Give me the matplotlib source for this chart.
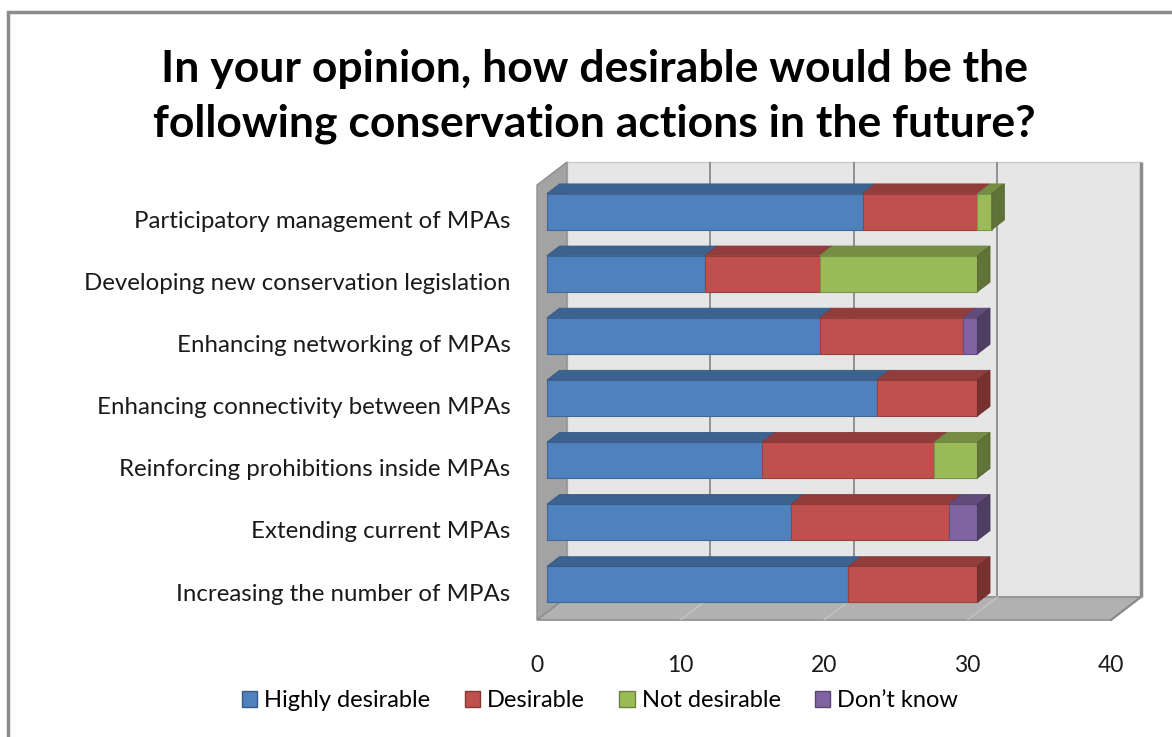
import matplotlib
matplotlib.use("Agg")
import matplotlib.pyplot as plt
from matplotlib.patches import Polygon, Patch, Rectangle
from matplotlib.colors import to_rgb

plt.rcParams['font.family'] = ['Lato', 'DejaVu Sans']

# survey answers, top row first
actions = [
    "Participatory management of MPAs",
    "Developing new conservation legislation",
    "Enhancing networking of MPAs",
    "Enhancing connectivity between MPAs",
    "Reinforcing prohibitions inside MPAs",
    "Extending current MPAs",
    "Increasing the number of MPAs",
]
highly_desirable = [22, 11, 19, 23, 15, 17, 21]
desirable = [8, 8, 10, 7, 12, 11, 9]
not_desirable = [1, 11, 0, 0, 3, 0, 0]
dont_know = [0, 0, 1, 0, 0, 2, 0]

series_names = ["Highly desirable", "Desirable", "Not desirable", "Don\u2019t know"]
series_colors = ["#4F81BD", "#C0504D", "#9BBB59", "#8064A2"]
x_ticks = [0, 10, 20, 30, 40]


def shade(c, f):
    r, g, b = to_rgb(c)
    return (r * f, g * f, b * f)


# fake 3d: depth offset of the back wall, in data units
DX = 2.09
DY = 0.371
D_FRONT = 0.33   # depth of the bar front face
D_BACK = 0.75    # depth of the bar back face
BAR_H = 0.58
Y_SHIFT = -0.05
XMAX = x_ticks[-1]
n = len(actions)

fig = plt.figure(figsize=(11.72, 7.37), dpi=100)
ax = fig.add_axes([537 / 1172, 1 - 620 / 737, 604 / 1172, 458 / 737])
ax.set_xlim(0, XMAX + DX)
ax.set_ylim(-0.5, n - 0.5 + DY)

y_lo, y_hi = -0.5, n - 0.5

# walls and floor
back = Polygon([(DX, y_lo + DY), (XMAX + DX, y_lo + DY), (XMAX + DX, y_hi + DY), (DX, y_hi + DY)],
               closed=True, facecolor="#E6E6E6", edgecolor="#C8C8C8", lw=1, zorder=0)
left = Polygon([(0, y_lo), (DX, y_lo + DY), (DX, y_hi + DY), (0, y_hi)],
               closed=True, facecolor="#A3A3A3", edgecolor="#8F8F8F", lw=1, zorder=1)
floor = Polygon([(0, y_lo), (XMAX, y_lo), (XMAX + DX, y_lo + DY), (DX, y_lo + DY)],
                closed=True, facecolor="#B1B1B1", edgecolor="#8F8F8F", lw=1.2, zorder=1)
for p in (back, left, floor):
    p.set_clip_on(False)
    ax.add_patch(p)

for v in x_ticks[1:-1]:
    ax.plot([v + DX, v + DX], [y_lo + DY, y_hi + DY], color="#8A8A8A", lw=1.3, zorder=0.5)
    ax.plot([v, v + DX], [y_lo, y_lo + DY], color="#C4C4C4", lw=1.0, zorder=1.5)
ax.plot([XMAX + DX, XMAX + DX], [y_lo + DY, y_hi + DY], color="#8C8C8C", lw=2.5,
        zorder=1.5, clip_on=False, solid_capstyle="butt")
ax.plot([XMAX, XMAX + DX], [y_lo, y_lo + DY], color="#8C8C8C", lw=1.5, zorder=1.5, clip_on=False)

# stacked 3d bars
all_series = [highly_desirable, desirable, not_desirable, dont_know]
positions = [n - 1 - i + Y_SHIFT for i in range(n)]
fx, fy = D_FRONT * DX, D_FRONT * DY
dd = D_BACK - D_FRONT
for i, ypos in enumerate(positions):
    left_edge = 0
    last_color = None
    yb = ypos + fy - BAR_H / 2
    yt = ypos + fy + BAR_H / 2
    for vals, col in zip(all_series, series_colors):
        v = vals[i]
        if v <= 0:
            continue
        x0 = left_edge + fx
        x1 = x0 + v
        ax.barh(ypos + fy, v, left=x0, height=BAR_H, color=col,
                edgecolor=shade(col, 0.8), lw=0.8, zorder=3)
        top = Polygon([(x0, yt), (x1, yt), (x1 + dd * DX, yt + dd * DY), (x0 + dd * DX, yt + dd * DY)],
                      closed=True, facecolor=shade(col, 0.76), edgecolor=shade(col, 0.7),
                      lw=0.6, zorder=3)
        ax.add_patch(top)
        left_edge += v
        last_color = col
    xe = left_edge + fx
    side = Polygon([(xe, yb), (xe + dd * DX, yb + dd * DY), (xe + dd * DX, yt + dd * DY), (xe, yt)],
                   closed=True, facecolor=shade(last_color, 0.62), edgecolor=shade(last_color, 0.55),
                   lw=0.6, zorder=3)
    ax.add_patch(side)

ax.set_yticks(positions)
ax.set_yticklabels(actions, fontsize=17.3, color="#1A1A1A")
ax.set_xticks(x_ticks)
ax.set_xticklabels([str(t) for t in x_ticks], fontsize=16.5, color="#1A1A1A")
ax.tick_params(axis="y", length=0, pad=19)
ax.tick_params(axis="x", length=0, pad=25)
for s in ax.spines.values():
    s.set_visible(False)
ax.set_facecolor("none")

fig.text(0.507, 0.869, "In your opinion, how desirable would be the\nfollowing conservation actions in the future?",
         ha="center", va="center", fontsize=32, fontweight="bold", linespacing=1.42)

handles = [Patch(facecolor=c, edgecolor=shade(c, 0.7), lw=1) for c in series_colors]
fig.legend(handles, series_names, loc="center", bbox_to_anchor=(0.512, 0.049), ncol=4,
           frameon=False, fontsize=17, handlelength=0.65, handleheight=0.65,
           handletextpad=0.3, columnspacing=1.45)

# chart border
fig.add_artist(Rectangle((8 / 1172, -0.1), 1.2, 1 - 12 / 737 + 0.1, transform=fig.transFigure,
                         fill=False, edgecolor="#8C8C8C", lw=2.5))

fig.savefig("out.png", dpi=100)
